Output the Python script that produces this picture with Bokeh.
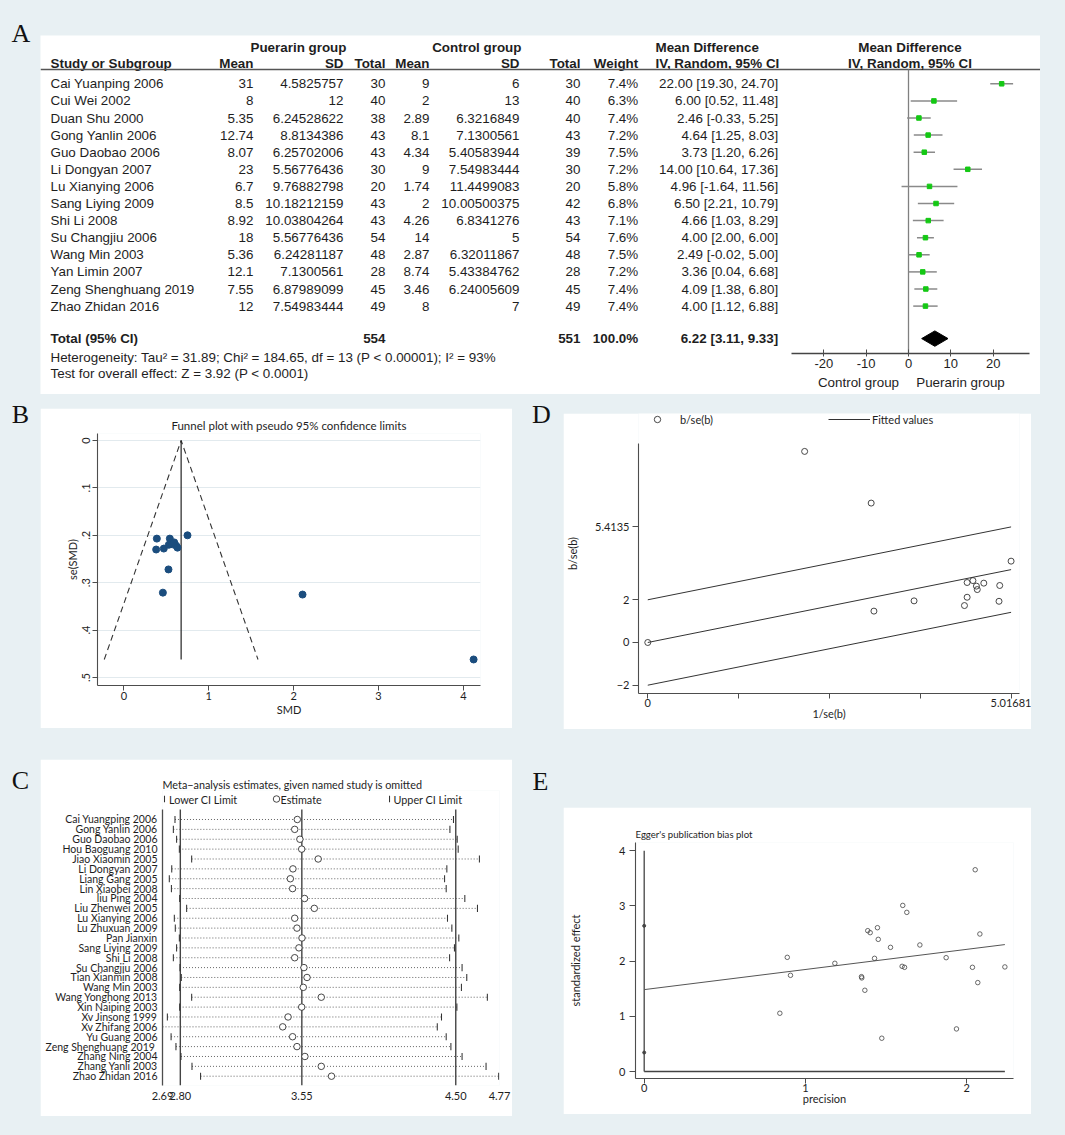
import numpy as np
from bokeh.plotting import figure
from bokeh.models import Range1d, FixedTicker, Legend, LegendItem, Spacer, LinearAxis
from bokeh.layouts import row, column
from bokeh.core.properties import value
from bokeh.embed import file_html
from bokeh.resources import INLINE

BG = "#e8f0f3"
INK = "#1e1e1e"
AX = "#4d4d4d"
SANS = "Liberation Sans"
STATA = "Lato"
SERIF = "Liberation Serif"

# ---------------- data: panel A (forest plot) ----------------
a_studies = ["Cai Yuanping 2006", "Cui Wei 2002", "Duan Shu 2000", "Gong Yanlin 2006",
             "Guo Daobao 2006", "Li Dongyan 2007", "Lu Xianying 2006", "Sang Liying 2009",
             "Shi Li 2008", "Su Changjiu 2006", "Wang Min 2003", "Yan Limin 2007",
             "Zeng Shenghuang  2019", "Zhao Zhidan 2016"]
p_mean = [31, 8, 5.35, 12.74, 8.07, 23, 6.7, 8.5, 8.92, 18, 5.36, 12.1, 7.55, 12]
p_sd = ["4.5825757", "12", "6.24528622", "8.8134386", "6.25702006", "5.56776436", "9.76882798",
        "10.18212159", "10.03804264", "5.56776436", "6.24281187", "7.1300561", "6.87989099",
        "7.54983444"]
p_total = [30, 40, 38, 43, 43, 30, 20, 43, 43, 54, 48, 28, 45, 49]
c_mean = [9, 2, 2.89, 8.1, 4.34, 9, 1.74, 2, 4.26, 14, 2.87, 8.74, 3.46, 8]
c_sd = ["6", "13", "6.3216849", "7.1300561", "5.40583944", "7.54983444", "11.4499083",
        "10.00500375", "6.8341276", "5", "6.32011867", "5.43384762", "6.24005609", "7"]
c_total = [30, 40, 40, 43, 39, 30, 20, 42, 43, 54, 48, 28, 45, 49]
weight = [7.4, 6.3, 7.4, 7.2, 7.5, 7.2, 5.8, 6.8, 7.1, 7.6, 7.5, 7.2, 7.4, 7.4]
md = [22.00, 6.00, 2.46, 4.64, 3.73, 14.00, 4.96, 6.50, 4.66, 4.00, 2.49, 3.36, 4.09, 4.00]
md_lo = [19.30, 0.52, -0.33, 1.25, 1.20, 10.64, -1.64, 2.21, 1.03, 2.00, -0.02, 0.04, 1.38, 1.12]
md_hi = [24.70, 11.48, 5.25, 8.03, 6.26, 17.36, 11.56, 10.79, 8.29, 6.00, 5.00, 6.68, 6.80, 6.88]
tot_p, tot_c, tot_w = 554, 551, 100.0
tot_md, tot_lo, tot_hi = 6.22, 3.11, 9.33
forest_ticks = [-20, -10, 0, 10, 20]
het_text = "Heterogeneity: Tau\u00b2 = 31.89; Chi\u00b2 = 184.65, df = 13 (P < 0.00001); I\u00b2 = 93%"
test_text = "Test for overall effect: Z = 3.92 (P < 0.0001)"

# ---------------- data: panel B (funnel plot) ----------------
b_smd = [0.389, 0.381, 0.471, 0.542, 0.530, 0.570, 0.594, 0.617, 0.632, 0.750, 0.526, 0.460, 2.105, 4.120]
b_se = [0.207, 0.230, 0.228, 0.207, 0.220, 0.219, 0.215, 0.222, 0.226, 0.200, 0.272, 0.321, 0.325, 0.462]
b_pooled = 0.675
b_xticks = [0, 1, 2, 3, 4]
b_yticks = [0, 0.1, 0.2, 0.3, 0.4, 0.5]

# ---------------- data: panel C (leave-one-out) ----------------
c_studies = ["Cai Yuangping 2006", "Gong Yanlin 2006", "Guo Daobao 2006", "Hou Baoguang 2010",
             "Jiao Xiaomin 2005", "Li Dongyan 2007", "Liang Gang 2005", "Lin Xiaobei 2008",
             "liu Ping 2004", "Liu Zhenwei 2005", "Lu Xianying 2006", "Lu Zhuxuan 2009",
             "Pan Jianxin", "Sang Liying 2009", "Shi Li 2008", "Su Changjiu 2006",
             "Tian Xianmin 2008", "Wang Min 2003", "Wang Yonghong 2013", "Xin Naiping 2003",
             "Xv Jinsong 1999", "Xv Zhifang 2006", "Yu Guang 2006", "Zeng Shenghuang  2019",
             "Zhang Ning 2004", "Zhang Yanli 2003", "Zhao Zhidan 2016"]
c_lo = [2.767, 2.757, 2.777, 2.794, 2.870, 2.747, 2.732, 2.745, 2.796, 2.839, 2.763, 2.769, 2.794,
        2.777, 2.757, 2.798, 2.806, 2.796, 2.870, 2.796, 2.720, 2.690, 2.743, 2.773, 2.804, 2.872, 2.925]
c_est = [3.522, 3.506, 3.538, 3.549, 3.651, 3.495, 3.479, 3.493, 3.567, 3.627, 3.506, 3.520, 3.551,
         3.532, 3.506, 3.563, 3.582, 3.559, 3.670, 3.549, 3.465, 3.432, 3.493, 3.520, 3.569, 3.670, 3.733]
c_hi = [4.486, 4.464, 4.509, 4.515, 4.646, 4.445, 4.431, 4.441, 4.556, 4.634, 4.449, 4.476, 4.519,
        4.492, 4.462, 4.539, 4.568, 4.535, 4.695, 4.507, 4.412, 4.386, 4.441, 4.470, 4.539, 4.687, 4.765]
c_pooled = [2.80, 3.55, 4.50]
c_xticks = [2.69, 2.80, 3.55, 4.50, 4.77]
c_legend = ["Lower CI Limit", "Estimate", "Upper CI Limit"]

# ---------------- data: panel D (Galbraith) ----------------
d_x = [0, 2.166, 3.085, 3.123, 3.677, 4.373, 4.41, 4.41, 4.49, 4.538, 4.55, 4.64, 4.85, 4.86, 5.01681]
d_y = [0, 8.95, 6.53, 1.47, 1.95, 1.73, 2.12, 2.81, 2.90, 2.64, 2.48, 2.78, 1.93, 2.67, 3.81]
d_slope = 3.4135 / 5.01681
d_band = 2.0

# ---------------- data: panel E (Egger) ----------------
e_x = [2.052, 1.603, 1.628, 1.446, 1.386, 1.401, 1.451, 2.081, 1.527, 1.709, 0.887, 1.428, 1.872,
       1.182, 1.599, 1.614, 2.035, 2.236, 0.907, 1.347, 1.349, 2.068, 1.368, 0.841, 1.936, 1.473]
e_y = [3.656, 3.010, 2.884, 2.606, 2.552, 2.516, 2.395, 2.492, 2.250, 2.293, 2.069, 2.051, 2.063,
       1.961, 1.906, 1.888, 1.888, 1.895, 1.743, 1.719, 1.696, 1.611, 1.472, 1.056, 0.772, 0.603]
e_intercept, e_slope = 1.484, 0.365
e_ci = [0.344, 2.64]
e_xticks = [0, 1, 2]
e_yticks = [0, 1, 2, 3, 4]


# ---------------- helpers ----------------
def base_fig(w, h, xr, yr, left=0, right=0, top=0, bottom=0, xaxis=True, yaxis=True, bg="white"):
    kw = dict(width=w, height=h, x_range=xr, y_range=yr, output_backend="svg",
              toolbar_location=None, min_border_left=left, min_border_right=right,
              min_border_top=top, min_border_bottom=bottom)
    if not xaxis:
        kw["x_axis_location"] = None
    if not yaxis:
        kw["y_axis_location"] = None
    p = figure(**kw)
    p.outline_line_color = None
    p.background_fill_color = bg
    p.border_fill_color = bg
    p.grid.visible = False
    return p


def txt(p, xs, ys, texts, align="left", bold=False, size="13.4px", font=SANS, color=INK,
        baseline="middle", **kw):
    p.text(x=list(xs), y=list(ys), text=list(texts), text_align=align, text_baseline=baseline,
           text_font=value(font), text_font_size=value(size),
           text_font_style="bold" if bold else "normal", text_color=color, **kw)


def style_axis(ax, font=STATA, size="11px", tick_out=5, tick_in=0):
    ax.axis_line_color = AX
    ax.axis_line_width = 1.1
    ax.major_tick_line_color = AX
    ax.major_tick_out = tick_out
    ax.major_tick_in = tick_in
    ax.minor_tick_line_color = None
    ax.major_label_text_font = font
    ax.major_label_text_font_size = size
    ax.major_label_text_color = INK
    ax.axis_label_text_font = font
    ax.axis_label_text_font_size = size
    ax.axis_label_text_font_style = "normal"
    ax.axis_label_text_color = INK


def style_axes(p, **kw):
    for ax in p.axis:
        style_axis(ax, **kw)


def panel_label(w, h, ch, x, y):
    p = base_fig(w, h, Range1d(0, w), Range1d(h, 0), xaxis=False, yaxis=False, bg=BG)
    txt(p, [x], [y], [ch], align="center", size="26px", font=SERIF, color="#111111")
    return p


# ---------------- panel A: table + forest in one figure ----------------
ROW0, ROWH = 83.3, 17.1          # reference-pixel position of first row and row pitch
def rpx(py):
    return (py - ROW0) / ROWH

PX0, PXU = 908.0, 4.235          # reference-pixel of MD=0 and pixels per unit
def mdx(px):
    return (px - PX0) / PXU

n = len(a_studies)
rows = list(range(n))
y_tot, y_het, y_test = 14.9, 16.0, 16.95
y_h1, y_h2, y_line = -2.1, -1.17, -0.84

PA = base_fig(1000, 359, Range1d(40, 1040), Range1d(rpx(394), rpx(35)), xaxis=False, yaxis=False)
PA.extra_x_ranges = {"md": Range1d(mdx(40), mdx(1040))}

# table
txt(PA, [250, 431.7], [y_h1] * 2, ["Puerarin group", "Control group"], bold=True)
txt(PA, [655], [y_h1], ["Mean Difference"], bold=True)
txt(PA, [50], [y_h2], ["Study or Subgroup"], bold=True)
txt(PA, [253, 343, 385, 429, 519, 580, 637.7], [y_h2] * 7,
    ["Mean", "SD", "Total", "Mean", "SD", "Total", "Weight"], align="right", bold=True)
txt(PA, [655], [y_h2], ["IV, Random, 95% CI"], bold=True)
PA.segment(x0=[40], x1=[1040], y0=[y_line], y1=[y_line], line_color="#555555", line_width=1.5)

txt(PA, [50] * n, rows, a_studies)
txt(PA, [253] * n, rows, [f"{v:g}" for v in p_mean], align="right")
txt(PA, [343] * n, rows, p_sd, align="right")
txt(PA, [385] * n, rows, [str(v) for v in p_total], align="right")
txt(PA, [429] * n, rows, [f"{v:g}" for v in c_mean], align="right")
txt(PA, [519] * n, rows, c_sd, align="right")
txt(PA, [580] * n, rows, [str(v) for v in c_total], align="right")
txt(PA, [637.7] * n, rows, [f"{w:.1f}%" for w in weight], align="right")
txt(PA, [777.7] * n, rows, [f"{m:.2f} [{l:.2f}, {h:.2f}]" for m, l, h in zip(md, md_lo, md_hi)],
    align="right")

txt(PA, [50], [y_tot], ["Total (95% CI)"], bold=True)
txt(PA, [385, 580, 637.7, 777.7], [y_tot] * 4,
    [str(tot_p), str(tot_c), f"{tot_w:.1f}%", f"{tot_md:.2f} [{tot_lo:.2f}, {tot_hi:.2f}]"],
    align="right", bold=True)
txt(PA, [50], [y_het], [het_text])
txt(PA, [50], [y_test], [test_text])

# forest (mean-difference scale)
y_axis_line = rpx(352.5)
PA.segment(x0=[0], x1=[0], y0=[y_line], y1=[y_axis_line], line_color="#808080", line_width=1.3,
           x_range_name="md")
PA.segment(x0=md_lo, x1=md_hi, y0=rows, y1=rows, line_color="#8a8a8a", line_width=1.5,
           x_range_name="md")
PA.scatter(md, rows, marker="square", size=4.5, fill_color="#14c814", line_color="#14c814",
           x_range_name="md")
dh = 0.45
PA.patch([tot_lo, tot_md, tot_hi, tot_md], [y_tot, y_tot - dh, y_tot, y_tot + dh],
         fill_color="black", line_color="black", x_range_name="md")
txt(PA, [0.35, 0.35], [y_h1, y_h2], ["Mean Difference", "IV, Random, 95% CI"], align="center",
    bold=True, x_range_name="md")
txt(PA, [mdx(858), mdx(960)], [rpx(381.5)] * 2, ["Control group", "Puerarin group"], align="center",
    x_range_name="md")
xa = LinearAxis(x_range_name="md", fixed_location=y_axis_line)
style_axis(xa, font=SANS, size="13px", tick_out=3, tick_in=4)
xa.ticker = FixedTicker(ticks=forest_ticks)
xa.major_label_overrides = {t: str(t) for t in forest_ticks}
xa.bounds = (mdx(791), mdx(1029))
xa.axis_line_color = "#444444"
xa.axis_line_width = 1.3
xa.major_label_standoff = 3
PA.add_layout(xa, "below")

# ---------------- panel B ----------------
FB = base_fig(472, 320, Range1d(-0.31, 4.201), Range1d(0.5169, -0.0148),
              left=57, right=32, top=25, bottom=43)
FB.ygrid.visible = True
FB.ygrid.ticker = FixedTicker(ticks=b_yticks)
FB.ygrid.grid_line_color = "#e2eaee"
FB.ygrid.grid_line_width = 1
se_max = max(b_se)
FB.line([b_pooled - 1.96 * se_max, b_pooled, b_pooled + 1.96 * se_max], [se_max, 0, se_max],
        line_dash="6 4", line_color="#333333", line_width=1.1)
FB.segment(x0=[b_pooled], x1=[b_pooled], y0=[0], y1=[se_max], line_color="#222222", line_width=1.2)
FB.scatter(b_smd, b_se, marker="circle", size=7, fill_color="#1b4d7e", line_color="#1b4d7e")
style_axes(FB)
FB.xaxis.ticker = FixedTicker(ticks=b_xticks)
FB.xaxis.axis_label = "SMD"
FB.xaxis.major_label_standoff = 1
FB.xaxis.axis_label_standoff = 0
FB.yaxis.ticker = FixedTicker(ticks=b_yticks)
FB.yaxis.major_label_overrides = {t: ("0" if t == 0 else f"{t:.1f}".lstrip("0")) for t in b_yticks}
FB.yaxis.major_label_orientation = "vertical"
FB.yaxis.axis_label = "se(SMD)"
FB.yaxis.major_label_standoff = 2
FB.yaxis.axis_label_standoff = 1
FB.title.text = "Funnel plot with pseudo 95% confidence limits"
FB.title.align = "center"
FB.title.text_font = STATA
FB.title.text_font_size = "11.5px"
FB.title.text_font_style = "normal"
FB.title.text_color = INK
FB.title.standoff = 4

# ---------------- panel C ----------------
nc = len(c_studies)
crow = list(range(nc))
c_ytop, c_ybot = -1.013, 26.94
C_X0, C_XU = 162.0, 162.0        # reference-pixel of x=2.69 and pixels per unit
def cx(px):
    return 2.69 + (px - C_X0) / C_XU
FC = base_fig(472, 357, Range1d(2.69, 4.77), Range1d(c_ybot, -2.937),
              left=122, right=13, top=31, bottom=31)
FC.segment(x0=c_lo, x1=c_hi, y0=crow, y1=crow, line_dash="1 2", line_color="#555555", line_width=0.9)
FC.segment(x0=c_pooled, x1=c_pooled, y0=[c_ytop] * 3, y1=[c_ybot] * 3, line_color="#444444",
           line_width=1.4)
tick_h = 0.36
tick_w = 0.0065
FC.vbar(x=c_lo, width=tick_w, top=[r - tick_h for r in crow], bottom=[r + tick_h for r in crow],
        fill_color="#333333", line_color=None)
FC.vbar(x=c_hi, width=tick_w, top=[r - tick_h for r in crow], bottom=[r + tick_h for r in crow],
        fill_color="#333333", line_color=None)
FC.scatter(c_est, crow, marker="circle", size=6.5, fill_color="white", line_color="#333333",
           line_width=0.9)
# key row above the first study (same glyphs as the marks)
y_key = -2.076
FC.vbar(x=[cx(164), cx(389)], width=tick_w, top=[y_key - 0.33] * 2, bottom=[y_key + 0.33] * 2,
        fill_color="#333333", line_color=None)
FC.scatter([cx(276)], [y_key], marker="circle", size=6.5, fill_color="white", line_color="#333333",
           line_width=0.9)
txt(FC, [cx(168.5), cx(280), cx(393)], [y_key] * 3, c_legend, size="10.8px", font=STATA)
style_axes(FC, size="10.5px")
FC.xaxis.ticker = FixedTicker(ticks=c_xticks)
FC.xaxis.major_label_overrides = {t: f"{t:.2f}" for t in c_xticks}
FC.xaxis.axis_line_color = None
FC.xaxis.major_tick_line_color = None
FC.xaxis.major_tick_out = 0
FC.xaxis.major_label_standoff = 6
FC.xaxis.major_label_text_font_size = "11px"
FC.yaxis.ticker = FixedTicker(ticks=crow)
FC.yaxis.major_label_overrides = {i: s for i, s in enumerate(c_studies)}
FC.yaxis.major_tick_line_color = None
FC.yaxis.major_tick_out = 0
FC.yaxis.major_label_standoff = 5
FC.yaxis.bounds = (c_ytop, c_ybot)
FC.yaxis.axis_line_width = 1.3
FC.title.text = "Meta\u2212analysis estimates, given named study is omitted"
FC.title.align = "left"
FC.title.text_font = STATA
FC.title.text_font_size = "10.8px"
FC.title.text_font_style = "normal"
FC.title.text_color = INK
FC.title.standoff = 0

# ---------------- panel D ----------------
FD = base_fig(468, 316, Range1d(-0.128, 5.133), Range1d(-2.389, 10.726),
              left=73, right=12, top=0, bottom=36)
xmax = max(d_x)
fx = [0, xmax]
ml = FD.multi_line(xs=[fx, fx, fx],
                   ys=[[d_band, d_band + d_slope * xmax], [0, d_slope * xmax],
                       [-d_band, -d_band + d_slope * xmax]],
                   line_color="#333333", line_width=1)
sc = FD.scatter(d_x, d_y, marker="circle", size=6, fill_color=None, line_color="#333333", line_width=0.9)
style_axes(FD, tick_out=6)
d_xt = [xmax * k / 4 for k in range(5)]
FD.xaxis.ticker = FixedTicker(ticks=d_xt)
FD.xaxis.major_label_overrides = {t: ("0" if t == 0 else (f"{t:.5f}" if t == xmax else "")) for t in d_xt}
FD.xaxis.major_tick_out = 5
FD.xaxis.axis_label = "1/se(b)"
FD.xaxis.major_label_standoff = 0
FD.xaxis.axis_label_standoff = -3
ytop = d_band + d_slope * xmax
d_yt = [-d_band, 0, d_band, ytop]
FD.yaxis.ticker = FixedTicker(ticks=d_yt)
FD.yaxis.major_label_overrides = {-d_band: "\u22122", 0: "0", d_band: "2", ytop: f"{ytop:.4f}"}
FD.yaxis.bounds = (-2.389, 9.335)
FD.yaxis.axis_label = "b/se(b)"
FD.yaxis.major_label_standoff = 3
FD.yaxis.axis_label_standoff = 13
legD = Legend(items=[LegendItem(label="b/se(b)", renderers=[sc]),
                     LegendItem(label="Fitted values", renderers=[ml])],
              location=(-2, 266), orientation="horizontal", glyph_width=42, glyph_height=16,
              label_width=148, label_height=16, label_standoff=2, spacing=0, padding=0, margin=0,
              border_line_color=None, background_fill_alpha=0,
              label_text_font=STATA, label_text_font_size="11px", label_text_color=INK)
FD.add_layout(legD)

# ---------------- panel E ----------------
FE = base_fig(468, 307, Range1d(-0.0539, 2.2895), Range1d(-0.1267, 4.150),
              left=72, right=18, top=35, bottom=36)
pmax = max(e_x)
FE.segment(x0=[0], x1=[0], y0=[0], y1=[max(e_yticks)], line_color="#444444", line_width=1.3)
FE.segment(x0=[0], x1=[pmax], y0=[0], y1=[0], line_color="#444444", line_width=1.3)
FE.line([0, pmax], [e_intercept, e_intercept + e_slope * pmax], line_color="#555555", line_width=1)
FE.scatter([0, 0], e_ci, marker="circle", size=3, fill_color="#444444", line_color="#444444")
FE.scatter(e_x, e_y, marker="circle", size=4.5, fill_color=None, line_color="#444444", line_width=0.8)
style_axes(FE, tick_out=6)
FE.xaxis.ticker = FixedTicker(ticks=e_xticks)
FE.xaxis.major_tick_out = 5
FE.xaxis.axis_label = "precision"
FE.xaxis.major_label_standoff = 0
FE.xaxis.axis_label_standoff = -3
FE.yaxis.ticker = FixedTicker(ticks=e_yticks)
FE.yaxis.axis_label = "standardized effect"
FE.yaxis.major_label_standoff = 4
FE.yaxis.axis_label_standoff = 34
FE.title.text = "Egger's publication bias plot"
FE.title.align = "left"
FE.title.text_font = STATA
FE.title.text_font_size = "9.6px"
FE.title.text_font_style = "normal"
FE.title.text_color = INK
FE.title.standoff = 6

# ---------------- layout (page has no margin: full 1065 x 1135) ----------------
labA = panel_label(40, 401, "A", 20.5, 33)
labB = panel_label(40, 343, "B", 20, 13)
labC = panel_label(40, 391, "C", 20, 35.5)
labD = panel_label(33, 367, "D", 11, 13)
labE = panel_label(33, 367, "E", 10, 12.5)

rowA = row(labA,
           column(Spacer(width=1000, height=35), PA, Spacer(width=1000, height=7), spacing=0),
           Spacer(width=25, height=401), spacing=0)
rowB = row(labB, column(Spacer(width=472, height=7), FB, Spacer(width=472, height=16), spacing=0),
           Spacer(width=18, height=343), spacing=0)
rowC = row(labC, column(Spacer(width=472, height=15), FC, Spacer(width=472, height=19), spacing=0),
           Spacer(width=18, height=391), spacing=0)
rowD = row(labD, column(Spacer(width=468, height=12), FD, Spacer(width=468, height=39), spacing=0),
           Spacer(width=34, height=367), spacing=0)
rowE = row(labE, column(Spacer(width=468, height=39), FE, Spacer(width=468, height=21), spacing=0),
           Spacer(width=34, height=367), spacing=0)
root = column(rowA,
              row(column(rowB, rowC, spacing=0), column(rowD, rowE, spacing=0), spacing=0),
              spacing=0, styles={"background-color": BG})

open("out.html", "w").write(file_html(root, INLINE))
